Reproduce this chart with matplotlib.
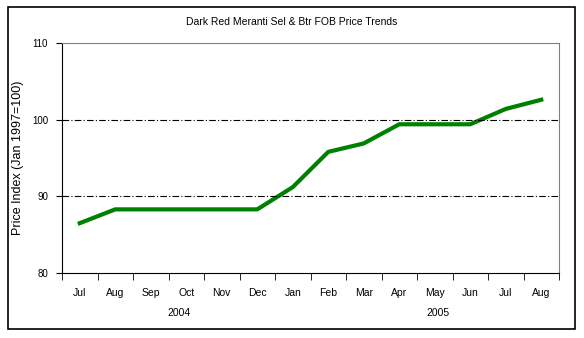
import matplotlib.pyplot as plt
from matplotlib.patches import Rectangle

months = ["Jul", "Aug", "Sep", "Oct", "Nov", "Dec", "Jan", "Feb",
          "Mar", "Apr", "May", "Jun", "Jul", "Aug"]
price_index = [86.5, 88.3, 88.3, 88.3, 88.3, 88.3, 91.2, 95.8,
               96.9, 99.4, 99.4, 99.4, 101.4, 102.6]
years = ["2004", "2005"]
year_pos = [2.8, 10.1]

plt.rcParams['font.family'] = ['Liberation Sans', 'DejaVu Sans']

fig = plt.figure(figsize=(5.84, 3.38), dpi=100)
fig.patch.set_facecolor("white")

# outer frame round the whole chart
fig.patches.append(Rectangle((8 / 584, 9 / 338), 567 / 584, 322 / 338,
                             transform=fig.transFigure, fill=False,
                             edgecolor="black", linewidth=1.2))

ax = fig.add_axes([62 / 584, 65 / 338, 497 / 584, 230 / 338])
x = list(range(len(months)))
ax.plot(x, price_index, color="#008000", linewidth=3, solid_joinstyle="round")

ax.set_xlim(-0.5, len(months) - 0.5)
ax.set_ylim(80, 110)
ax.set_yticks([80, 90, 100, 110])
ax.set_yticklabels(["80", "90", "100", "110"], fontsize=7)
ax.set_xticks(x)
ax.set_xticklabels(months, fontsize=7.5)
ax.tick_params(axis="x", length=0, pad=11)
ax.set_xticks([i - 0.5 for i in range(len(months) + 1)], minor=True)
ax.tick_params(axis="x", which="minor", length=5, direction="out", color="black")
ax.tick_params(axis="y", length=4, direction="out", pad=6)

for v in [90, 100]:
    ax.axhline(v, color="black", linewidth=0.8, linestyle="-.", dashes=(6, 2, 1, 2))

ax.spines["left"].set_color("black")
ax.spines["bottom"].set_color("black")
ax.spines["top"].set_color("#808080")
ax.spines["right"].set_color("#808080")

for label, pos in zip(years, year_pos):
    ax.text(pos, -0.175, label, transform=ax.get_xaxis_transform(),
            ha="center", va="center", fontsize=7.5)

ax.set_ylabel("Price Index (Jan 1997=100)", fontsize=9, labelpad=6)
fig.text(0.5, 1 - 22 / 338, "Dark Red Meranti Sel & Btr FOB Price Trends",
         ha="center", va="center", fontsize=7.5)

fig.savefig("out.png", dpi=100)
